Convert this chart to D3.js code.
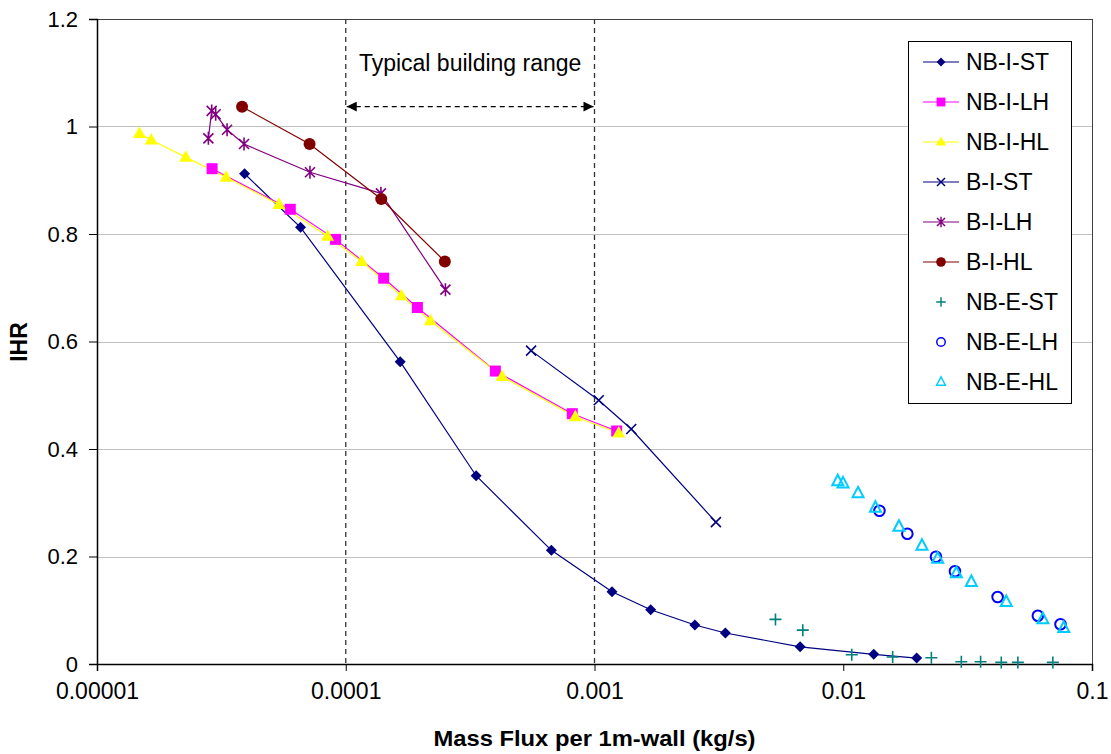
<!DOCTYPE html>
<html>
<head>
<meta charset="utf-8">
<script src="https://cdn.jsdelivr.net/npm/d3@7/dist/d3.min.js"></script>
<style>
  html, body { margin: 0; padding: 0; background: #fff; }
  svg text { font-family: Arial, "Liberation Sans", sans-serif; }
</style>
</head>
<body>
<div id="chart"></div>
<script>
// data
var seriesNames = ['NB-I-ST', 'NB-I-LH', 'NB-I-HL', 'B-I-ST', 'B-I-LH', 'B-I-HL', 'NB-E-ST', 'NB-E-LH', 'NB-E-HL'];

var nbIstX = [3.92e-5, 6.58e-5, 1.655e-4, 3.343e-4, 6.71e-4, 1.176e-3, 1.682e-3, 2.533e-3, 3.358e-3, 6.71e-3, 1.326e-2, 1.973e-2];
var nbIstY = [0.912, 0.8125, 0.5624, 0.3503, 0.2115, 0.1345, 0.101, 0.0726, 0.0577, 0.032, 0.018, 0.011];

var nbIlhX = [2.902e-5, 5.985e-5, 9.1e-5, 1.421e-4, 1.941e-4, 3.995e-4, 8.14e-4, 1.228e-3];
var nbIlhY = [0.9215, 0.846, 0.790, 0.7178, 0.6633, 0.545, 0.4657, 0.4335];

var nbIhlX = [1.482e-5, 1.651e-5, 2.273e-5, 3.303e-5, 5.39e-5, 8.45e-5, 1.158e-4, 1.674e-4, 2.19e-4, 4.25e-4, 8.37e-4, 1.251e-3];
var nbIhlY = [0.987, 0.975, 0.943, 0.9055, 0.855, 0.796, 0.749, 0.685, 0.6385, 0.535, 0.460, 0.4298];

var bIstX = [5.56e-4, 1.04e-3, 1.405e-3, 3.076e-3];
var bIstY = [0.583, 0.4906, 0.4372, 0.264];

var bIlhX = [2.804e-5, 2.891e-5, 3.0e-5, 3.333e-5, 3.9e-5, 7.18e-5, 1.385e-4, 2.516e-4];
var bIlhY = [0.978, 1.029, 1.0227, 0.994, 0.9674, 0.9148, 0.8757, 0.6964];

var bIhlX = [3.83e-5, 7.155e-5, 1.389e-4, 2.502e-4];
var bIhlY = [1.0368, 0.9674, 0.865, 0.749];

var nbEstX = [5.34e-3, 6.876e-3, 1.082e-2, 1.58e-2, 2.261e-2, 2.983e-2, 3.566e-2, 4.318e-2, 5.035e-2, 6.96e-2];
var nbEstY = [0.083, 0.063, 0.0173, 0.013, 0.0117, 0.0043, 0.0043, 0.003, 0.003, 0.003];

var nbElhX = [1.398e-2, 1.81e-2, 2.359e-2, 2.812e-2, 4.174e-2, 6.058e-2, 7.47e-2];
var nbElhY = [0.2852, 0.2424, 0.1996, 0.1725, 0.1247, 0.0899, 0.0739];

var nbEhlX = [9.504e-3, 9.98e-3, 1.147e-2, 1.347e-2, 1.675e-2, 2.072e-2, 2.396e-2, 2.849e-2, 3.273e-2, 4.522e-2, 6.344e-2, 7.7e-2];
var nbEhlY = [0.340, 0.336, 0.3176, 0.2908, 0.2554, 0.220, 0.196, 0.1687, 0.1526, 0.1153, 0.0832, 0.067];

var xTicks = [0.00001, 0.0001, 0.001, 0.01, 0.1];
var xTickLabels = ['0.00001', '0.0001', '0.001', '0.01', '0.1'];
var yTicks = [0, 0.2, 0.4, 0.6, 0.8, 1, 1.2];
var yTickLabels = ['0', '0.2', '0.4', '0.6', '0.8', '1', '1.2'];

var rangeLow = 0.0001, rangeHigh = 0.001, arrowY = 1.037;

var attrs = {
    svgWidth: 1111,
    svgHeight: 754,
    marginTop: 19,
    marginLeft: 97,
    marginRight: 19,
    marginBottom: 90
};

var calc = {};
calc.chartWidth = attrs.svgWidth - attrs.marginLeft - attrs.marginRight;
calc.chartHeight = attrs.svgHeight - attrs.marginTop - attrs.marginBottom;

// series look (line colour, marker, marker fill/stroke)
var styles = [
    { line: '#000080', marker: 'diamond', fill: '#000080', stroke: 'none' },
    { line: '#FF00FF', marker: 'square', fill: '#FF00FF', stroke: 'none' },
    { line: '#FFFF00', marker: 'triangle', fill: '#FFFF00', stroke: 'none' },
    { line: '#000080', marker: 'x', fill: 'none', stroke: '#000080' },
    { line: '#800080', marker: 'star', fill: 'none', stroke: '#800080' },
    { line: '#800000', marker: 'circle', fill: '#800000', stroke: 'none' },
    { line: null, marker: 'plus', fill: 'none', stroke: '#008080' },
    { line: null, marker: 'ocircle', fill: 'none', stroke: '#0000FF' },
    { line: null, marker: 'otriangle', fill: 'none', stroke: '#00CCFF' }
];

var xs = [nbIstX, nbIlhX, nbIhlX, bIstX, bIlhX, bIhlX, nbEstX, nbElhX, nbEhlX];
var ys = [nbIstY, nbIlhY, nbIhlY, bIstY, bIlhY, bIhlY, nbEstY, nbElhY, nbEhlY];

var series = seriesNames.map(function (name, i) {
    return {
        name: name,
        style: styles[i],
        values: xs[i].map(function (x, j) { return { x: x, y: ys[i][j] }; })
    };
});

function markerPath(type) {
    switch (type) {
        case 'diamond': return 'M0,-5.5L5.5,0L0,5.5L-5.5,0Z';
        case 'square': return 'M-5.5,-5.5H5.5V5.5H-5.5Z';
        case 'triangle': return 'M0,-7L6.5,4.5L-6.5,4.5Z';
        case 'x': return 'M-5,-5L5,5M-5,5L5,-5';
        case 'star': return 'M-5,-5L5,5M-5,5L5,-5M0,-6.5L0,6.5';
        case 'circle': return d3.symbol().type(d3.symbolCircle).size(Math.PI * 36)();
        case 'plus': return 'M-6,0H6M0,-6V6';
        case 'ocircle': return d3.symbol().type(d3.symbolCircle).size(Math.PI * 28)();
        case 'otriangle': return 'M0,-6.5L5.5,4L-5.5,4Z';
    }
}

var svg = d3.select('#chart')
    .append('svg')
    .attr('width', attrs.svgWidth)
    .attr('height', attrs.svgHeight);

var chart = svg.append('g')
    .attr('transform', 'translate(' + attrs.marginLeft + ',' + attrs.marginTop + ')');

// scales
var x = d3.scaleLog()
    .domain([xTicks[0], xTicks[xTicks.length - 1]])
    .range([0, calc.chartWidth]);

var y = d3.scaleLinear()
    .domain([0, 1.2])
    .range([calc.chartHeight, 0]);

// gridlines
chart.append('g')
    .selectAll('line')
    .data(yTicks.slice(1))
    .enter()
    .append('line')
    .attr('x1', 0)
    .attr('x2', calc.chartWidth)
    .attr('y1', d => Math.round(y(d)) + 0.5)
    .attr('y2', d => Math.round(y(d)) + 0.5)
    .attr('stroke', '#c0c0c0')
    .attr('stroke-width', 1);

// plot frame
chart.append('rect')
    .attr('x', 0.5)
    .attr('y', 0.5)
    .attr('width', calc.chartWidth)
    .attr('height', calc.chartHeight)
    .attr('fill', 'none')
    .attr('stroke', '#404040')
    .attr('stroke-width', 1);

// axes
var yAxis = chart.append('g')
    .call(d3.axisLeft(y)
        .tickValues(yTicks)
        .tickSize(8)
        .tickPadding(11)
        .tickFormat((d, i) => yTickLabels[i]));

var xAxis = chart.append('g')
    .attr('transform', 'translate(0,' + calc.chartHeight + ')')
    .call(d3.axisBottom(x)
        .tickValues(xTicks)
        .tickSize(7)
        .tickPadding(12)
        .tickFormat((d, i) => xTickLabels[i]));

[xAxis, yAxis].forEach(function (ax) {
    ax.select('.domain').attr('stroke', '#000').attr('stroke-width', 1.5);
    ax.selectAll('.tick line').attr('stroke', '#000');
    ax.selectAll('.tick text')
        .attr('fill', '#000');
});
xAxis.selectAll('.tick text').style('font-size', '23px');
yAxis.selectAll('.tick text').style('font-size', '22px');

// typical building range
var guides = chart.append('g');
guides.selectAll('line.range')
    .data([rangeLow, rangeHigh])
    .enter()
    .append('line')
    .attr('class', 'range')
    .attr('x1', d => x(d))
    .attr('x2', d => x(d))
    .attr('y1', 0)
    .attr('y2', calc.chartHeight)
    .attr('stroke', '#333')
    .attr('stroke-width', 1.3)
    .attr('stroke-dasharray', '5,4');

svg.append('defs')
    .selectAll('marker')
    .data(['arrowEnd', 'arrowStart'])
    .enter()
    .append('marker')
    .attr('id', d => d)
    .attr('viewBox', '0 -5 10 10')
    .attr('refX', 10)
    .attr('refY', 0)
    .attr('markerWidth', 11)
    .attr('markerHeight', 10)
    .attr('markerUnits', 'userSpaceOnUse')
    .attr('orient', d => d === 'arrowEnd' ? 'auto' : 'auto-start-reverse')
    .append('path')
    .attr('d', 'M0,-5L10,0L0,5Z')
    .attr('fill', '#000');

guides.append('line')
    .attr('x1', x(rangeLow) + 1)
    .attr('x2', x(rangeHigh) - 1)
    .attr('y1', y(arrowY))
    .attr('y2', y(arrowY))
    .attr('stroke', '#000')
    .attr('stroke-width', 1.3)
    .attr('stroke-dasharray', '5,4')
    .attr('marker-start', 'url(#arrowStart)')
    .attr('marker-end', 'url(#arrowEnd)');

guides.append('text')
    .attr('x', (x(rangeLow) + x(rangeHigh)) / 2)
    .attr('y', 52)
    .attr('text-anchor', 'middle')
    .style('font-size', '23px')
    .text('Typical building range');

// lines
var line = d3.line()
    .x(d => x(d.x))
    .y(d => y(d.y));

chart.append('g')
    .selectAll('path')
    .data(series.filter(s => s.style.line))
    .enter()
    .append('path')
    .attr('d', d => line(d.values))
    .attr('fill', 'none')
    .attr('stroke', d => d.style.line)
    .attr('stroke-width', 1.2);

// markers
var markerGroups = chart.append('g')
    .selectAll('g')
    .data(series)
    .enter()
    .append('g');

markerGroups.selectAll('path')
    .data(d => d.values.map(v => ({ v: v, style: d.style })))
    .enter()
    .append('path')
    .attr('transform', d => 'translate(' + x(d.v.x) + ',' + y(d.v.y) + ')')
    .attr('d', d => markerPath(d.style.marker))
    .attr('fill', d => d.style.fill)
    .attr('stroke', d => d.style.stroke)
    .attr('stroke-width', d => d.style.marker === 'otriangle' || d.style.marker === 'ocircle' ? 2 : 1.6);

// axis titles
svg.append('text')
    .attr('x', attrs.marginLeft + calc.chartWidth / 2)
    .attr('y', 746)
    .attr('text-anchor', 'middle')
    .attr('textLength', 322)
    .attr('lengthAdjust', 'spacingAndGlyphs')
    .style('font-size', '22px')
    .style('font-weight', 'bold')
    .text('Mass Flux per 1m-wall (kg/s)');

svg.append('text')
    .attr('transform', 'translate(27,342) rotate(-90)')
    .attr('text-anchor', 'middle')
    .style('font-size', '23px')
    .style('font-weight', 'bold')
    .text('IHR');

// legend
var legend = svg.append('g')
    .attr('transform', 'translate(908,41)');

legend.append('rect')
    .attr('x', 0.5)
    .attr('y', 0.5)
    .attr('width', 163)
    .attr('height', 362)
    .attr('fill', '#fff')
    .attr('stroke', '#000');

var items = legend.selectAll('g.item')
    .data(series)
    .enter()
    .append('g')
    .attr('class', 'item')
    .attr('transform', (d, i) => 'translate(0,' + (21 + i * 40) + ')');

items.filter(d => d.style.line)
    .append('line')
    .attr('x1', 15)
    .attr('x2', 51)
    .attr('stroke', d => d.style.line)
    .attr('stroke-width', 1.2);

items.append('path')
    .attr('transform', 'translate(33,0) scale(0.8)')
    .attr('d', d => markerPath(d.style.marker))
    .attr('fill', d => d.style.fill)
    .attr('stroke', d => d.style.stroke)
    .attr('stroke-width', 1.8);

items.append('text')
    .attr('x', 58)
    .attr('y', 8)
    .style('font-size', '23px')
    .text(d => d.name);
</script>
</body>
</html>
